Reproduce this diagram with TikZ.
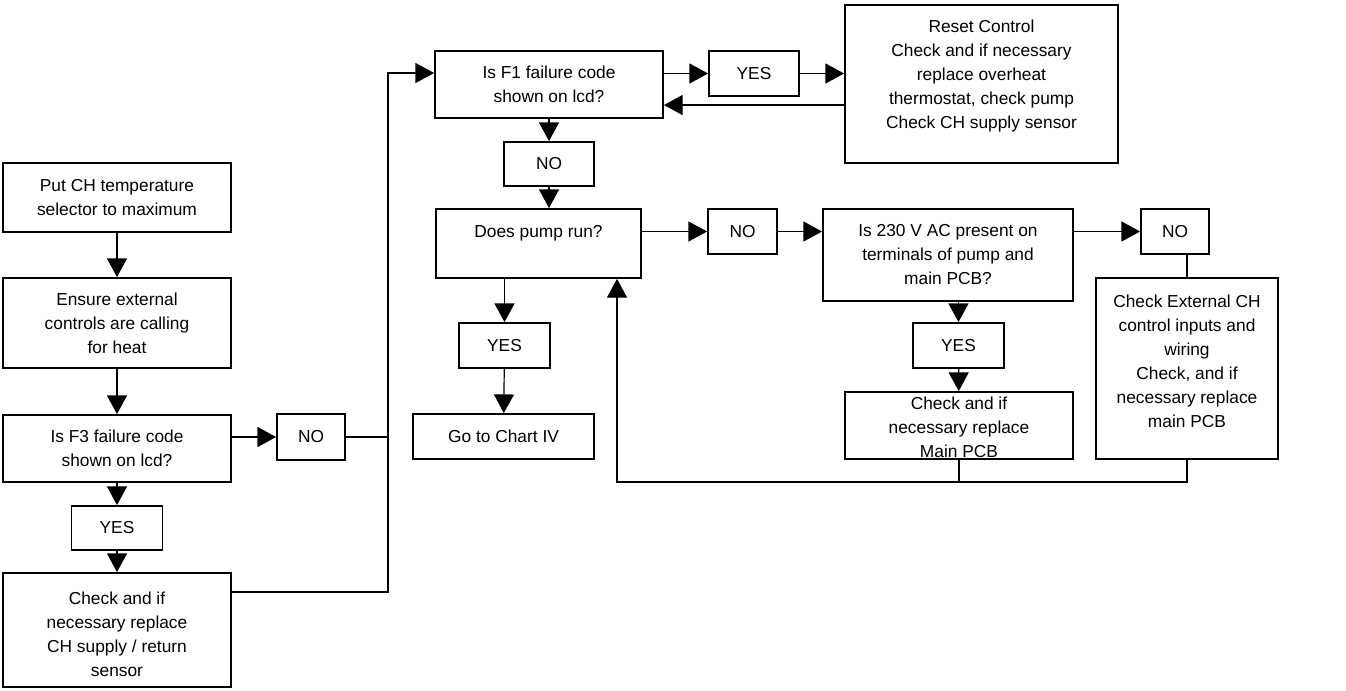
\documentclass[tikz,border=0pt]{standalone}
\usepackage{fontspec}
\setmainfont{Liberation Sans}
\usetikzlibrary{arrows.meta,calc}
\begin{document}
\begin{tikzpicture}[x=0.75pt,y=-0.75pt,
  txt/.style={inner sep=0pt, align=center, font=\fontsize{13}{18}\selectfont},
  box/.style={txt, draw, line width=1.4pt},
  sz/.style 2 args={minimum width=#1*0.75pt, minimum height=#2*0.75pt},
  ln/.style={line width=0.9pt},
  arr/.style={ln, -{Triangle[length=14pt,width=15pt]}}]
\path[use as bounding box] (0,0) rectangle (1346,690);

% left column
\node[box, sz={228}{69}] (A) at (117,197.5) {Put CH temperature\\selector to maximum};
\node[box, sz={228}{90}] (B) at (117,323) {Ensure external\\controls are calling\\for heat};
\node[box, sz={228}{67}] (C) at (117,448.5) {Is F3 failure code\\shown on lcd?};
\node[box, sz={91}{44}] (Y1) at (117,528) {YES};
\node[box, sz={228}{114}] (D) at (117,630) {};
\node[txt] (Dt) at (117,634) {Check and if\\necessary replace\\CH supply / return\\sensor};
\node[box, sz={68}{46}] (N1) at (311,437) {NO};

% top
\node[box, sz={228}{67}] (F1) at (549,84.5) {Is F1 failure code\\shown on lcd?};
\node[box, sz={90}{45}] (Y2) at (754,73.5) {YES};
\node[box, sz={273}{158}] (R) at (981.5,84) {};
\node[txt] (Rt) at (981.5,76) {Reset Control\\Check and if necessary\\replace overheat\\thermostat, check pump\\Check CH supply sensor};
\node[box, sz={90}{44}] (N2) at (549,164) {NO};

% middle
\node[box, sz={205}{69}] (P) at (538.5,243.5) {};
\node[txt] (Pt) at (538.5,233) {Does pump run?};
\node[box, sz={69}{45}] (N3) at (742.5,231.5) {NO};
\node[box, sz={91}{45}] (Y3) at (504.5,345.5) {YES};
\node[box, sz={181}{45}] (G) at (503.5,436.5) {Go to Chart IV};

% right
\node[box, sz={250}{92}] (V) at (948,255) {Is 230 V AC present on\\terminals of pump and\\main PCB?};
\node[box, sz={68}{45}] (N4) at (1175,231.5) {NO};
\node[box, sz={182}{181}] (E) at (1187,368.5) {};
\node[txt] (Et) at (1187,361) {Check External CH\\control inputs and\\wiring\\Check, and if\\necessary replace\\main PCB};
\node[box, sz={91}{45}] (Y4) at (958.5,345.5) {YES};
\node[box, sz={228}{67}] (M) at (959,425.5) {};
\node[txt] (Mt) at (959,427.5) {Check and if\\necessary replace\\Main PCB};

% connectors left
\draw[arr] (A) -- (B);
\draw[arr] (B) -- (C);
\draw[arr] (C) -- (Y1);
\draw[arr] (Y1) -- (D);
\draw[arr] (N1.west -| C.east) -- (N1.west);
\coordinate (J) at (388,73);
\draw[ln] (N1.east) -- (N1.east -| J);
\coordinate (Dj) at ($(D.north east)+(0,20)$);
\draw[arr] (Dj) -| (J) -- (J -| F1.west);

% connectors top
\draw[arr] (F1.east |- Y2.west) -- (Y2.west);
\draw[arr] (Y2.east) -- (Y2.east -| R.west);
\coordinate (Rb) at ($(R.west)+(0,21)$);
\draw[arr] (Rb) -- (Rb -| F1.east);
\draw[arr] (F1) -- (N2);
\draw[arr] (N2.south) -- (N2.south |- P.north);

% connectors middle / right
\draw[arr] (P.east |- N3.west) -- (N3.west);
\draw[arr] (N3.east) -- (N3.east -| V.west);
\draw[arr] (V.east |- N4.west) -- (N4.west);
\draw[ln] (N4.south -| E.north) -- (E.north);
\draw[arr] (Y3.north |- P.south) -- (Y3.north);
\draw[arr] (Y3) -- (G);
\draw[arr] (V.south -| Y4.north) -- (Y4.north);
\draw[arr] (Y4) -- (M);
\coordinate (L) at (617,482);
\draw[ln] (M.south) -- (M.south |- L);
\draw[arr] (E.south) |- (L) -- (L |- P.south);
\end{tikzpicture}
\end{document}
